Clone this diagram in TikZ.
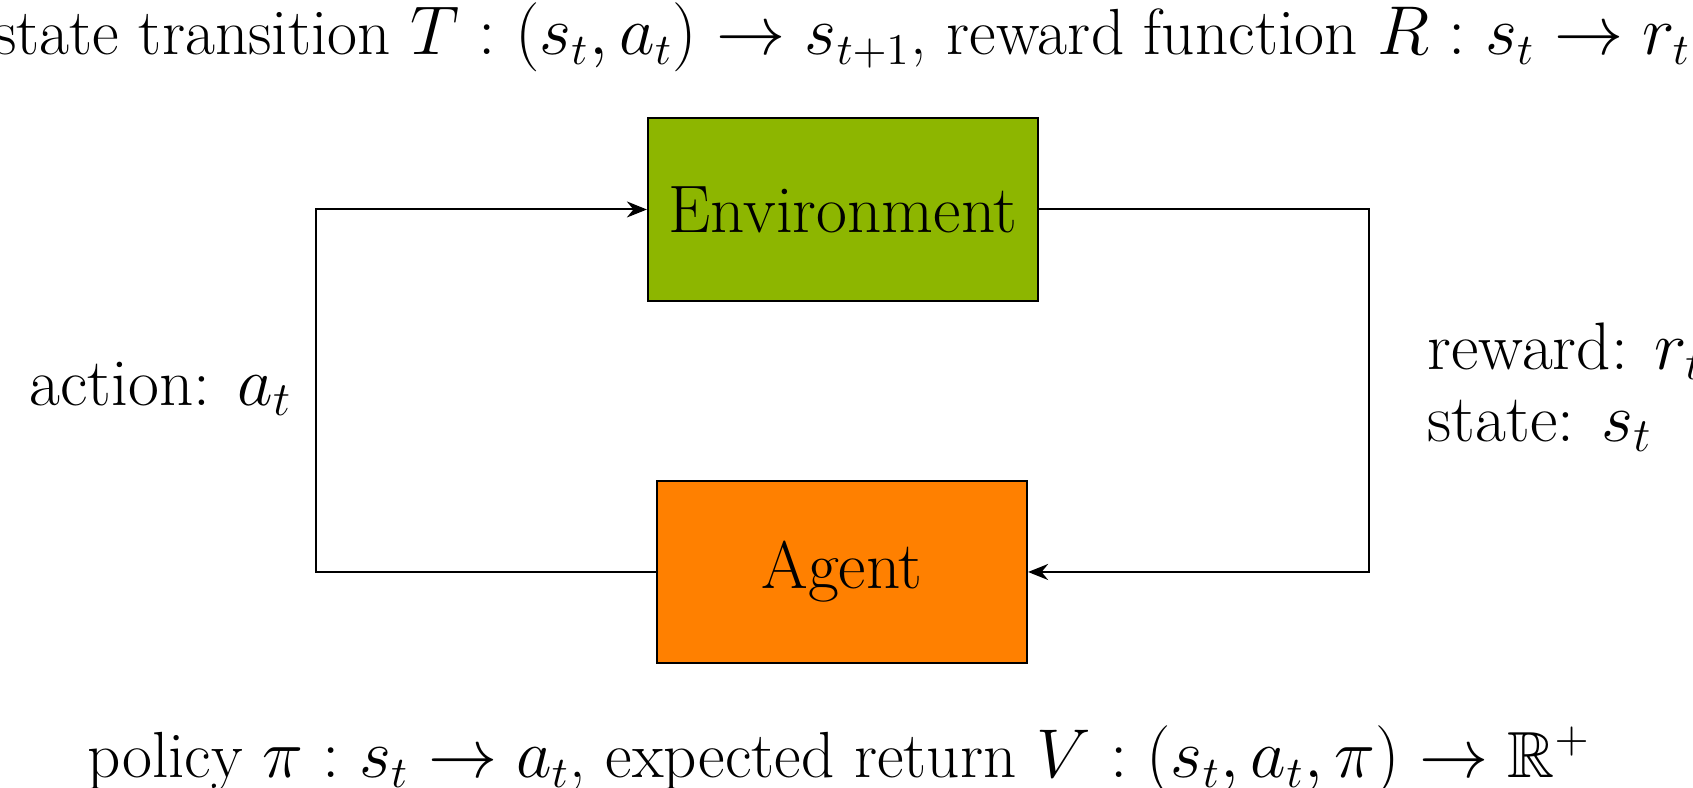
\documentclass[tikz,border=0pt]{standalone}
\usepackage{amssymb}
\usetikzlibrary{arrows.meta}
\definecolor{envgreen}{RGB}{141,182,0}
\definecolor{agorange}{RGB}{255,128,0}
\begin{document}
\begin{tikzpicture}[x=0.25pt,y=-0.25pt,
  every node/.style={font=\fontsize{16.8}{18}\selectfont, inner sep=0pt},
  caption/.style={font=\fontsize{16.3}{18}\selectfont},
  blockbox/.style={draw=black, line width=0.55pt, minimum width=#1*0.25pt},
  conn/.style={line width=0.5pt},
  tip/.style={-{Stealth[length=5pt,width=4pt]}}]
\useasboundingbox (0,0) rectangle (1693,788);
\node[blockbox=390, minimum height=45.75pt, fill=envgreen] (env) at (843,209.5) {Environment};
\node[blockbox=370, minimum height=45.5pt, fill=agorange] (agent) at (842,572) {Agent};
\coordinate (lc) at (316,572);
\coordinate (rc) at (1369,209.5);
\draw[conn,tip] (agent.west) -- (lc) |- (env.west);
\draw[conn,tip] (env.east) -- (rc) |- (agent.east);
\node (act) at (161,389) {action: $a_t$};
\node[anchor=west, align=left] (rs) at (1427,387) {reward: $r_t$\\ state: $s_t$};
\node[caption] (top) at (842,37) {state transition $T:(s_t,a_t)\rightarrow s_{t+1}$, reward function $R:s_t\rightarrow r_t$};
\node[caption] (bot) at (839,760) {policy $\pi:s_t\rightarrow a_t$, expected return $V:(s_t,a_t,\pi)\rightarrow\mathbb{R}^+$};
\end{tikzpicture}
\end{document}
